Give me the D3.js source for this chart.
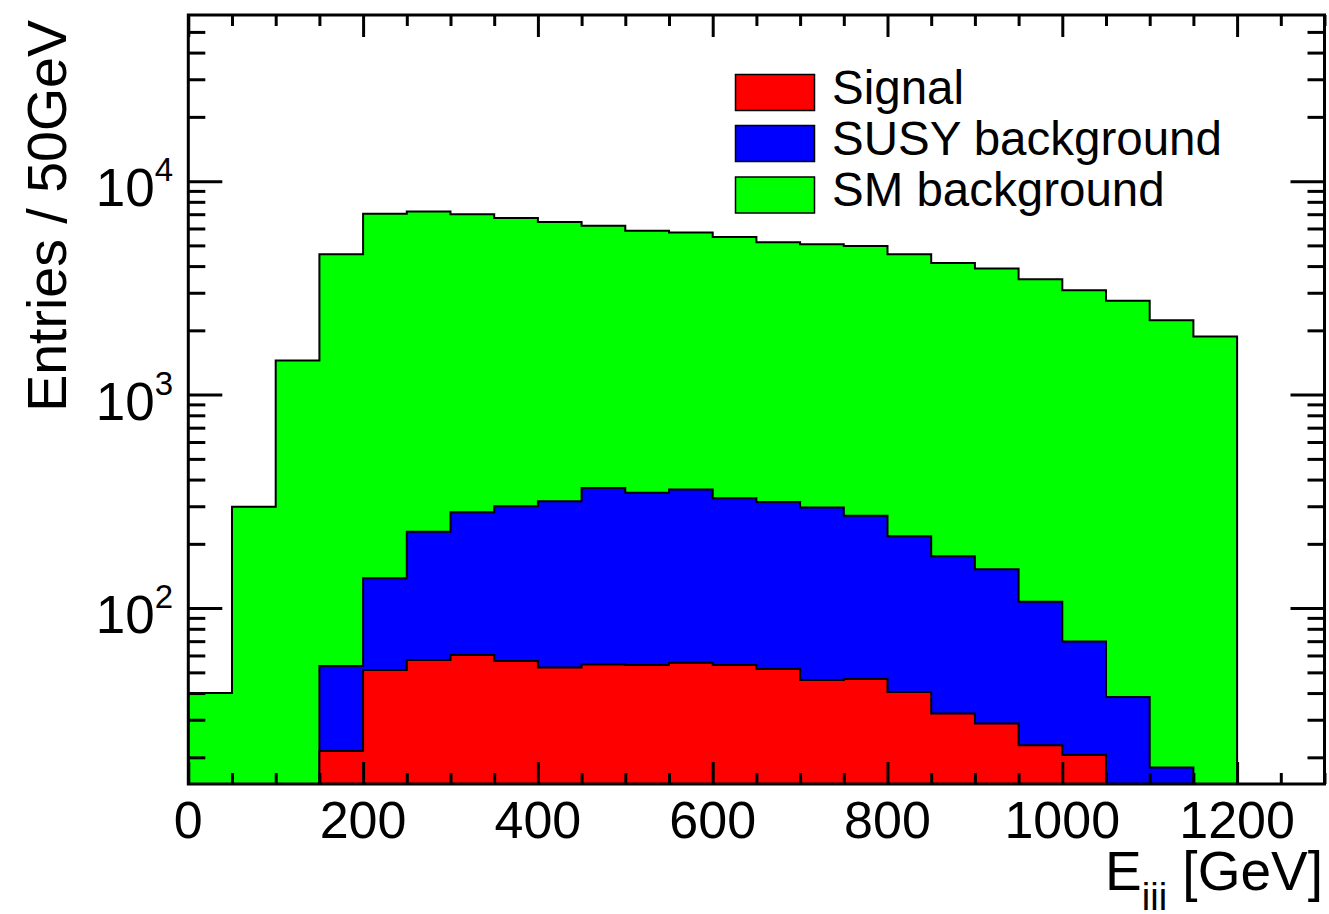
<!DOCTYPE html>
<html>
<head>
<meta charset="utf-8">
<script src="https://cdn.jsdelivr.net/npm/d3@7"></script>
<style>
  html, body { margin: 0; padding: 0; background: #fff; }
  svg { display: block; }
  text { font-family: "Liberation Sans", Arial, Helvetica, sans-serif; fill: #000; }
</style>
</head>
<body>
<svg id="chart" width="1329" height="914"></svg>
<script>
// ---- data ----
// lower edges of the 50 GeV bins
const binLow = [0, 50, 100, 150, 200, 250, 300, 350, 400, 450, 500, 550,
                600, 650, 700, 750, 800, 850, 900, 950, 1000, 1050, 1100, 1150];
const binWidth = 50;
// stacked histogram tops (THStack): SM on top of SUSY on top of Signal
const stackTopSM = [40, 298, 1446, 4540, 7030, 7210, 7000, 6710, 6430, 6180, 5850, 5750,
                    5480, 5170, 5060, 4970, 4550, 4140, 3900, 3470, 3080, 2750, 2230, 1870];
const stackTopSUSY = [0, 0, 0, 53.5, 138, 228, 281, 300, 317, 365, 347, 359,
                      327, 314, 296, 271, 217, 175, 152, 107, 69.8, 38.3, 17.9, 0];
const stackTopSignal = [0, 0, 0, 21.4, 51.3, 57.1, 60.3, 56.6, 52.7, 54.5, 54.2, 55.5,
                        54.1, 51.8, 46.0, 46.5, 40.5, 32.1, 28.8, 22.8, 20.5, 0, 0, 0];
const legendLabels = ["Signal", "SUSY background", "SM background"];
const xMajorTicks = [0, 200, 400, 600, 800, 1000, 1200];
const xTickLabels = ["0", "200", "400", "600", "800", "1000", "1200"];
const yMajorTicks = [100, 1000, 10000];
const yTickExponents = ["2", "3", "4"];
const xTitle = "E", xTitleSub = "iii", xTitleUnit = " [GeV]";
const yTitle = "Entries / 50GeV";

// ---- layout ----
const L = 188.3, R = 1324.5, T = 15, B = 784;
const x = d3.scaleLinear().domain([0, 1300]).range([L, R]);
const yMin = 15, yMax = 60000;
const y = d3.scaleLog().domain([yMin, yMax]).range([B, T]);

const svg = d3.select("#chart");

// ---- histograms ----
function histPath(vals) {
  const idx = vals.map((v, i) => v > 0 ? i : -1).filter(i => i >= 0);
  const first = idx[0], last = idx[idx.length - 1];
  const yc = v => y(Math.max(v, yMin));
  let p = `M${x(binLow[first])},${B}`;
  for (let i = first; i <= last; i++) {
    p += `L${x(binLow[i])},${yc(vals[i])}L${x(binLow[i] + binWidth)},${yc(vals[i])}`;
  }
  p += `L${x(binLow[last] + binWidth)},${B}Z`;
  return p;
}
const series = [
  { vals: stackTopSM, color: "#00ff00" },
  { vals: stackTopSUSY, color: "#0000ff" },
  { vals: stackTopSignal, color: "#ff0000" }
];
const gHist = svg.append("g");
series.forEach(s => {
  gHist.append("path")
    .attr("d", histPath(s.vals))
    .attr("fill", s.color)
    .attr("stroke", "#000")
    .attr("stroke-width", 2)
    .attr("stroke-linejoin", "miter");
});

// ---- axes ticks ----
const xMinor = d3.range(0, 1301, 50).filter(v => v % 200 !== 0);
const yMinor = [];
[10, 100, 1000, 10000].forEach(d => { for (let k = 2; k <= 9; k++) { const v = k * d; if (v > yMin && v < yMax) yMinor.push(v); } });

function styleAxis(g) {
  g.select(".domain").remove();
  g.selectAll(".tick line").attr("stroke", "#000").attr("stroke-width", 3);
  g.selectAll(".tick text").remove();
}
svg.append("g").attr("transform", `translate(0,${B})`)
  .call(d3.axisBottom(x).tickValues(xMajorTicks).tickSize(-22)).call(styleAxis);
svg.append("g").attr("transform", `translate(0,${B})`)
  .call(d3.axisBottom(x).tickValues(xMinor).tickSize(-11)).call(styleAxis);
svg.append("g").attr("transform", `translate(0,${T})`)
  .call(d3.axisTop(x).tickValues(xMajorTicks).tickSize(-22)).call(styleAxis);
svg.append("g").attr("transform", `translate(0,${T})`)
  .call(d3.axisTop(x).tickValues(xMinor).tickSize(-11)).call(styleAxis);
svg.append("g").attr("transform", `translate(${L},0)`)
  .call(d3.axisLeft(y).tickValues(yMajorTicks).tickSize(-34)).call(styleAxis);
svg.append("g").attr("transform", `translate(${L},0)`)
  .call(d3.axisLeft(y).tickValues(yMinor).tickSize(-17)).call(styleAxis);
svg.append("g").attr("transform", `translate(${R},0)`)
  .call(d3.axisRight(y).tickValues(yMajorTicks).tickSize(-34)).call(styleAxis);
svg.append("g").attr("transform", `translate(${R},0)`)
  .call(d3.axisRight(y).tickValues(yMinor).tickSize(-17)).call(styleAxis);

// frame
svg.append("rect")
  .attr("x", L).attr("y", T).attr("width", R - L).attr("height", B - T)
  .attr("fill", "none").attr("stroke", "#000").attr("stroke-width", 3);

// ---- tick labels ----
svg.append("g").selectAll("text").data(xMajorTicks).join("text")
  .attr("x", d => x(d)).attr("y", 838)
  .attr("text-anchor", "middle").attr("font-size", 52)
  .text((d, i) => xTickLabels[i]);

const yLab = svg.append("g").selectAll("text").data(yMajorTicks).join("text")
  .attr("x", 173).attr("y", d => y(d) + 25)
  .attr("text-anchor", "end").attr("font-size", 53);
yLab.append("tspan").text("10");
yLab.append("tspan").attr("dy", -25).attr("font-size", 33).text((d, i) => yTickExponents[i]);

// ---- axis titles ----
const xt = svg.append("text").attr("x", 1323).attr("y", 890)
  .attr("text-anchor", "end").attr("font-size", 55);
xt.append("tspan").text(xTitle);
xt.append("tspan").attr("dy", 20).attr("font-size", 38).text(xTitleSub);
xt.append("tspan").attr("dy", -20).text(xTitleUnit);

svg.append("text")
  .attr("transform", "translate(66,20) rotate(-90)")
  .attr("text-anchor", "end").attr("font-size", 55.5)
  .text(yTitle);

// ---- legend ----
const legColors = ["#ff0000", "#0000ff", "#00ff00"];
const legBoxY = [74.5, 125.5, 177];
const legBaseY = [103.5, 154.5, 205.5];
const leg = svg.append("g");
legendLabels.forEach((lab, i) => {
  leg.append("rect").attr("x", 735.5).attr("y", legBoxY[i]).attr("width", 79).attr("height", 36)
    .attr("fill", legColors[i]).attr("stroke", "#000").attr("stroke-width", 1.5);
  leg.append("text").attr("x", 832).attr("y", legBaseY[i]).attr("font-size", 47.5).text(lab);
});
</script>
</body>
</html>
